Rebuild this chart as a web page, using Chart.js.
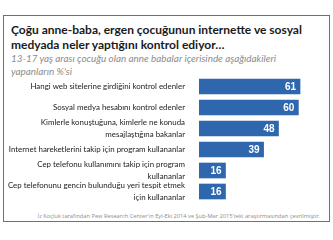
<!DOCTYPE html>
<html lang="tr">
<head>
<meta charset="UTF-8">
<title>Ebeveyn kontrolü</title>
<style>
  body { margin: 0; width: 333px; height: 240px; background: #fff; overflow: hidden; position: relative; font-family: "Open Sans", "Liberation Sans", sans-serif; }
  #frame { position: absolute; left: 3px; top: 15px; width: 325px; height: 205px; border: 1.5px solid #c0504d; }
  #title { position: absolute; left: 11px; top: 22px; white-space: nowrap; font-family: Lato, sans-serif; font-weight: bold; font-size: 12px; line-height: 15px; color: #1a1a1a; }
  #subtitle { position: absolute; left: 11px; top: 52px; white-space: nowrap; font-family: Lato, sans-serif; font-style: italic; font-size: 9.9px; line-height: 13px; color: #8c8c8c; }
  #note { position: absolute; left: 0; width: 358px; top: 212px; white-space: nowrap; text-align: center; font-size: 5.7px; color: #8c8c8c; }
  #wrap { position: absolute; left: 0; top: 76px; width: 333px; height: 126px; }
</style>
</head>
<body>
<div id="frame"></div>
<div id="title">Çoğu anne-baba, ergen çocuğunun internette ve sosyal<br>medyada neler yaptığını kontrol ediyor…</div>
<div id="subtitle">13-17 yaş arası çocuğu olan anne babalar içerisinde aşağıdakileri<br>yapanların %'si</div>
<div id="wrap"><canvas id="chart"></canvas></div>
<div id="note">İz Koçluk tarafından Pew Research Center'ın Eyl-Eki 2014 ve Şub-Mar 2015'teki araştırmasından çevrilmiştir.</div>

<script src="https://cdn.jsdelivr.net/npm/chart.js"></script>
<script>
  const categories = [
    ['Hangi web sitelerine girdiğini kontrol edenler'],
    ['Sosyal medya hesabını kontrol edenler'],
    ['Kimlerle konuştuğuna, kimlerle ne konuda', 'mesajlaştığına bakanlar'],
    ['Internet hareketlerini takip için program kullananlar'],
    ['Cep telefonu kullanımını takip için program', 'kullananlar'],
    ['Cep telefonunu gencin bulunduğu yeri tespit etmek', 'için kullananlar']
  ];
  const values = [61, 60, 48, 39, 16, 16];

  // white numbers at the end of each bar
  const valueLabels = {
    id: 'valueLabels',
    afterDatasetsDraw(chart) {
      const ctx = chart.ctx;
      const meta = chart.getDatasetMeta(0);
      ctx.save();
      ctx.fillStyle = '#ffffff';
      ctx.font = 'bold 10px "Liberation Sans", sans-serif';
      ctx.textAlign = 'right';
      ctx.textBaseline = 'middle';
      meta.data.forEach((bar, i) => {
        ctx.fillText(values[i], bar.x - 4, bar.y + 0.5);
      });
      ctx.restore();
    }
  };

  new Chart(document.getElementById('chart'), {
    type: 'bar',
    data: {
      labels: categories,
      datasets: [{
        data: values,
        backgroundColor: '#2e67ad',
        barThickness: 15
      }]
    },
    options: {
      indexAxis: 'y',
      responsive: true,
      maintainAspectRatio: false,
      animation: false,
      layout: { padding: { left: 0, right: 28, top: 0, bottom: 0 } },
      plugins: { legend: { display: false }, tooltip: { enabled: false } },
      scales: {
        x: { display: false, min: 0, max: 64 },
        y: {
          grid: { display: false },
          border: { display: false },
          afterFit(scale) {
            scale.width = 199;
            // labels may overhang the plot, don't squeeze the bars
            scale.paddingTop = 0;
            scale.paddingBottom = 0;
          },
          ticks: {
            autoSkip: false,
            color: '#222222',
            padding: 6,
            font: { family: 'Lato, sans-serif', size: 7.9, lineHeight: 1.45 }
          }
        }
      }
    },
    plugins: [valueLabels]
  });
</script>
</body>
</html>
